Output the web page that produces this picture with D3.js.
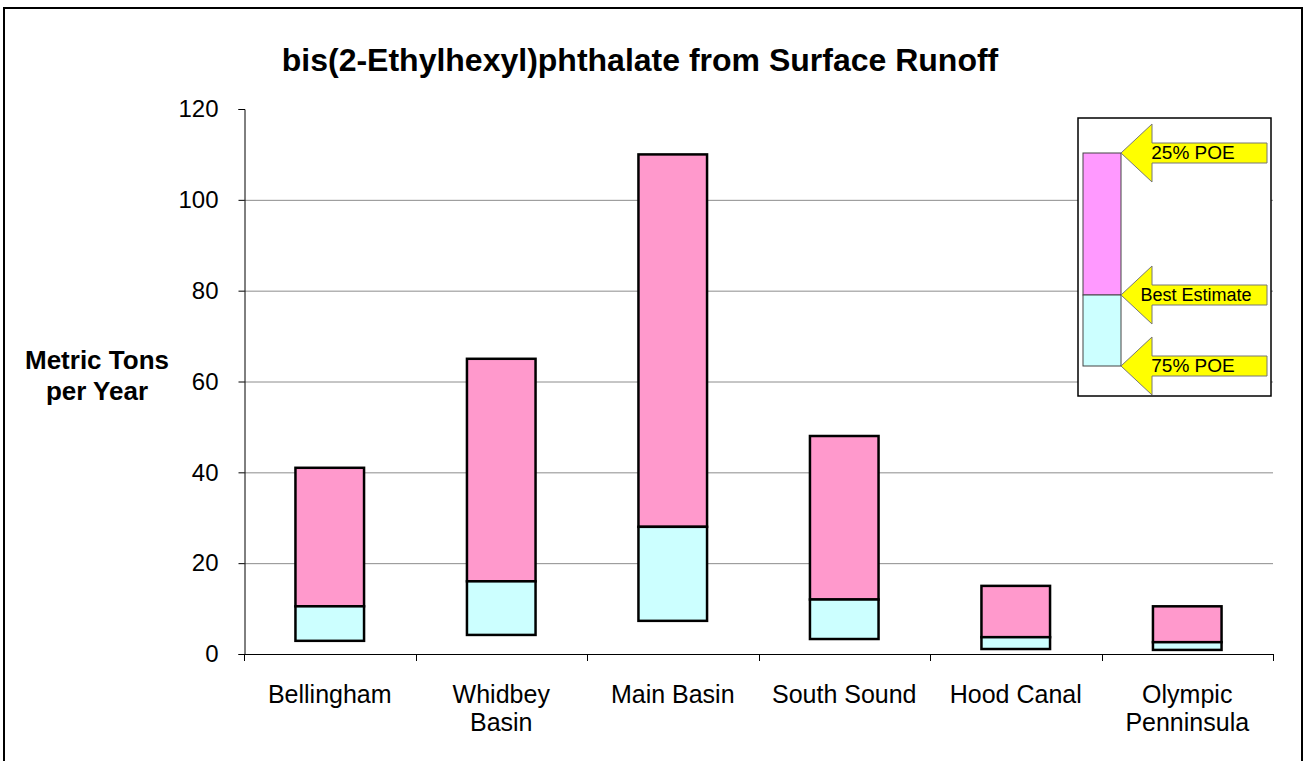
<!DOCTYPE html>
<html>
<head>
<meta charset="utf-8">
<script src="https://cdn.jsdelivr.net/npm/d3@7"></script>
<style>
  body { margin: 0; background: #fff; }
  text { font-family: Arial, "Liberation Sans", sans-serif; fill: #000; }
</style>
</head>
<body>
<div id="chart"></div>
<script>
// data
var categories = ["Bellingham", "Whidbey Basin", "Main Basin", "South Sound", "Hood Canal", "Olympic Penninsula"];
var tickLabels = [["Bellingham"], ["Whidbey", "Basin"], ["Main Basin"], ["South Sound"], ["Hood Canal"], ["Olympic", "Penninsula"]];
var poe75 = [2.9, 4.2, 7.3, 3.3, 1.1, 0.9];
var bestEstimate = [10.5, 16.0, 28.0, 12.0, 3.7, 2.6];
var poe25 = [41, 65, 110, 48, 15, 10.5];
var yTicks = [0, 20, 40, 60, 80, 100, 120];

var W = 1309, H = 761;
var plot = {left: 244, right: 1273, top: 109, bottom: 654};

var svg = d3.select("#chart").append("svg")
  .attr("width", W).attr("height", H);

// outer frame
svg.append("rect")
  .attr("x", 4).attr("y", 8).attr("width", 1298).attr("height", 770)
  .attr("fill", "none").attr("stroke", "#000").attr("stroke-width", 2);

svg.append("text")
  .attr("x", 640).attr("y", 71)
  .attr("text-anchor", "middle")
  .style("font-size", "32px").style("font-weight", "bold")
  .text("bis(2-Ethylhexyl)phthalate from Surface Runoff");

var x = d3.scaleBand()
  .domain(categories)
  .range([plot.left, plot.right])
  .paddingInner(0.6).paddingOuter(0.3);

var y = d3.scaleLinear()
  .domain([0, 120])
  .range([plot.bottom, plot.top]);

// gridlines
svg.append("g").selectAll("line")
  .data(yTicks.filter(function(d) { return d > 0 && d < 120; }))
  .join("line")
    .attr("x1", plot.left).attr("x2", plot.right)
    .attr("y1", function(d) { return y(d) + 0.5; })
    .attr("y2", function(d) { return y(d) + 0.5; })
    .attr("stroke", "#8c8c8c").attr("stroke-width", 1);

// y axis
var yAxis = svg.append("g")
  .attr("transform", "translate(" + (plot.left + 0.5) + ",0)")
  .call(d3.axisLeft(y).tickValues(yTicks).tickSize(6).tickPadding(20));
yAxis.select(".domain").attr("stroke", "#000");
yAxis.selectAll("line").attr("stroke", "#000");
yAxis.selectAll("text").style("font-size", "24px").attr("font-family", null);

// x axis with ticks at band edges
var step = x.step();
var edges = d3.range(categories.length + 1).map(function(i) { return plot.left + i * step; });
svg.append("line")
  .attr("x1", plot.left).attr("x2", plot.right)
  .attr("y1", plot.bottom + 0.5).attr("y2", plot.bottom + 0.5)
  .attr("stroke", "#000");
svg.append("g").selectAll("line")
  .data(edges)
  .join("line")
    .attr("x1", function(d) { return Math.round(d) + 0.5; })
    .attr("x2", function(d) { return Math.round(d) + 0.5; })
    .attr("y1", plot.bottom).attr("y2", plot.bottom + 7)
    .attr("stroke", "#000");

svg.append("g").selectAll("text")
  .data(categories)
  .join("text")
    .attr("x", function(d) { return x(d) + x.bandwidth() / 2; })
    .attr("y", 703)
    .attr("text-anchor", "middle")
    .style("font-size", "25px")
    .each(function(d, i) {
      d3.select(this).selectAll("tspan")
        .data(tickLabels[i])
        .join("tspan")
          .attr("x", x(d) + x.bandwidth() / 2)
          .attr("dy", function(t, j) { return j === 0 ? 0 : 28; })
          .text(function(t) { return t; });
    });

// y axis title
svg.append("text")
  .attr("x", 97).attr("y", 369)
  .attr("text-anchor", "middle")
  .style("font-size", "26px").style("font-weight", "bold")
  .selectAll("tspan")
  .data(["Metric Tons", "per Year"])
  .join("tspan")
    .attr("x", 97)
    .attr("dy", function(t, j) { return j === 0 ? 0 : 31; })
    .text(function(t) { return t; });

// bars: 75% POE -> best estimate (cyan), best estimate -> 25% POE (pink)
var bars = svg.append("g");
bars.selectAll("rect.hi")
  .data(categories)
  .join("rect")
    .attr("class", "hi")
    .attr("x", function(d) { return x(d); })
    .attr("width", x.bandwidth())
    .attr("y", function(d, i) { return y(poe25[i]); })
    .attr("height", function(d, i) { return y(bestEstimate[i]) - y(poe25[i]); })
    .attr("fill", "#ff99cc").attr("stroke", "#000").attr("stroke-width", 2.5);
bars.selectAll("rect.lo")
  .data(categories)
  .join("rect")
    .attr("class", "lo")
    .attr("x", function(d) { return x(d); })
    .attr("width", x.bandwidth())
    .attr("y", function(d, i) { return y(bestEstimate[i]); })
    .attr("height", function(d, i) { return y(poe75[i]) - y(bestEstimate[i]); })
    .attr("fill", "#ccffff").attr("stroke", "#000").attr("stroke-width", 2.5);

// legend box
var lg = svg.append("g").attr("transform", "translate(1078,118)");
lg.append("rect")
  .attr("x", 0).attr("y", 0).attr("width", 193).attr("height", 278)
  .attr("fill", "#fff").attr("stroke", "#000").attr("stroke-width", 1.5);
lg.append("rect")
  .attr("x", 5).attr("y", 35).attr("width", 38).attr("height", 142)
  .attr("fill", "#ff99ff").attr("stroke", "#444").attr("stroke-width", 1);
lg.append("rect")
  .attr("x", 5).attr("y", 177).attr("width", 38).attr("height", 71)
  .attr("fill", "#ccffff").attr("stroke", "#444").attr("stroke-width", 1);

var arrows = [
  {label: "25% POE", tip: 35, size: 19, cx: 115},
  {label: "Best Estimate", tip: 177, size: 18, cx: 118},
  {label: "75% POE", tip: 248, size: 19, cx: 115}
];
arrows.forEach(function(a) {
  var tx = 43, hb = 74, end = 189, head = 29, half = 10;
  var p = d3.path();
  p.moveTo(tx, a.tip);
  p.lineTo(hb, a.tip - head);
  p.lineTo(hb, a.tip - half);
  p.lineTo(end, a.tip - half);
  p.lineTo(end, a.tip + half);
  p.lineTo(hb, a.tip + half);
  p.lineTo(hb, a.tip + head);
  p.closePath();
  lg.append("path").attr("d", p.toString())
    .attr("fill", "#ffff00").attr("stroke", "#777").attr("stroke-width", 1);
  lg.append("text")
    .attr("x", a.cx)
    .attr("y", a.tip + 6)
    .attr("text-anchor", "middle")
    .style("font-size", a.size + "px")
    .text(a.label);
});
</script>
</body>
</html>
